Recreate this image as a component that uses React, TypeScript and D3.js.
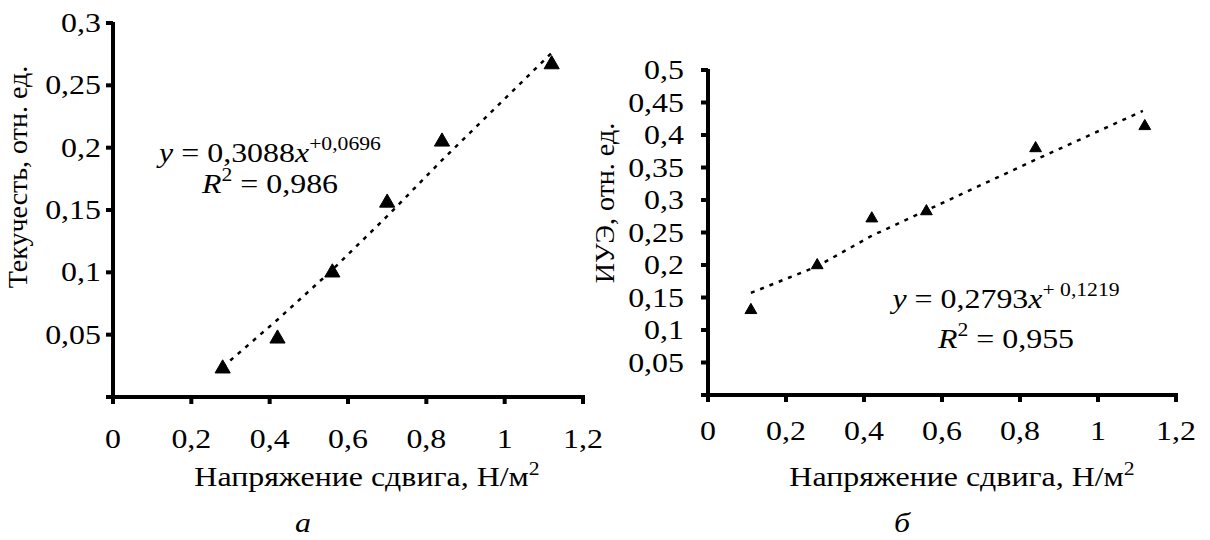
import React, { useEffect, useRef } from "react";
import * as d3 from "d3";

// панель а — текучесть
const shearA = [0.28, 0.42, 0.56, 0.70, 0.84, 1.12];
const fluidity = [0.022, 0.046, 0.099, 0.155, 0.204, 0.266];
const trendAx = [0.28, 0.42, 0.56, 0.70, 0.84, 1.12];
const trendAy = [0.024, 0.062, 0.102, 0.145, 0.19, 0.276];
const yTicksA = [0.05, 0.1, 0.15, 0.2, 0.25, 0.3];

// панель б — ИУЭ
const shearB = [0.11, 0.28, 0.42, 0.56, 0.84, 1.12];
const iue = [0.129, 0.198, 0.27, 0.281, 0.378, 0.412];
const trendBx = [0.11, 0.28, 0.42, 0.56, 0.84, 1.115];
const trendBy = [0.157, 0.198, 0.245, 0.284, 0.362, 0.437];
const yTicksB = [0.05, 0.1, 0.15, 0.2, 0.25, 0.3, 0.35, 0.4, 0.45, 0.5];

const xTicks = [0, 0.2, 0.4, 0.6, 0.8, 1, 1.2];

const FONT = "Liberation Serif, Tinos, DejaVu Serif, serif";
const FS = 28;
const SX = 1.14; // картинка растянута по горизонтали
const fmt = (v: number) => String(+v.toFixed(2)).replace(".", ",");

function App() {
  const ref = useRef<SVGSVGElement>(null);

  useEffect(() => {
    const svg = d3.select(ref.current);
    svg.selectAll("*").remove();

    const txt = (x: number, y: number, anchor = "middle", rot = 0) =>
      svg
        .append("text")
        .attr("transform", `translate(${x},${y}) scale(${rot ? 1 : SX},1)` + (rot ? ` rotate(${rot})` : ""))
        .attr("text-anchor", anchor)
        .attr("font-family", FONT)
        .attr("font-size", FS)
        .attr("fill", "#000");

    const panel = (o: any) => {
      const x = d3.scaleLinear().domain([0, 1.2]).range(o.xr);
      const y = d3.scaleLinear().domain([0, o.ymax]).range(o.yr);
      const g = svg.append("g");

      // оси
      g.append("line")
        .attr("x1", x(0)).attr("x2", x(0))
        .attr("y1", y(0) + 2).attr("y2", y(o.ymax) - 1)
        .attr("stroke", "#000").attr("stroke-width", 4);
      g.append("line")
        .attr("x1", x(0) - 2).attr("x2", x(1.2) + 2)
        .attr("y1", y(0)).attr("y2", y(0))
        .attr("stroke", "#000").attr("stroke-width", 4);

      g.selectAll(".yt")
        .data([0, ...o.yTicks])
        .enter()
        .append("line")
        .attr("x1", x(0) - 7).attr("x2", x(0))
        .attr("y1", (d: number) => y(d)).attr("y2", (d: number) => y(d))
        .attr("stroke", "#000").attr("stroke-width", 4);
      g.selectAll(".xt")
        .data(xTicks)
        .enter()
        .append("line")
        .attr("x1", (d: number) => x(d)).attr("x2", (d: number) => x(d))
        .attr("y1", y(0)).attr("y2", y(0) + 7)
        .attr("stroke", "#000").attr("stroke-width", 4);

      o.yTicks.forEach((d: number) => {
        txt(o.yLabelX, y(d) + 9, "end").text(fmt(d));
      });
      xTicks.forEach((d: number) => {
        txt(x(d), o.xLabelY, "middle").text(fmt(d));
      });

      // линия тренда
      const line = d3
        .line<number>()
        .x((d, i) => x(o.tx[i]))
        .y((d) => y(d));
      g.append("path")
        .attr("d", line(o.ty))
        .attr("fill", "none")
        .attr("stroke", "#000")
        .attr("stroke-width", 2.5)
        .attr("stroke-dasharray", "4 6");

      // точки
      const sym = d3.symbol().type(d3.symbolTriangle).size(o.symSize);
      g.selectAll(".pt")
        .data(o.py)
        .enter()
        .append("path")
        .attr("d", sym)
        .attr("transform", (d: number, i: number) => `translate(${x(o.px[i])},${y(d) - 1})`)
        .attr("fill", "#000")
        .attr("stroke", "#000")
        .attr("stroke-width", 1)
        .attr("stroke-linejoin", "round");

      // подписи осей
      txt(o.ytitle[0], o.ytitle[1], "middle", -90).text(o.ytitleText);
      const xt = txt(o.xtitle[0], o.xtitle[1], "middle");
      xt.append("tspan").text("Напряжение сдвига, Н/м");
      xt.append("tspan").attr("dy", -11).attr("font-size", 19).text("2");

      // уравнение
      const e1 = txt(o.eq[0], o.eq[1], "middle");
      e1.append("tspan").attr("font-style", "italic").text("y");
      e1.append("tspan").text(" = " + o.eqA);
      e1.append("tspan").attr("font-style", "italic").text("x");
      e1.append("tspan").attr("dy", -12).attr("font-size", 19).text(o.eqB);
      const e2 = txt(o.eq[0], o.eq[2], "middle");
      e2.append("tspan").attr("font-style", "italic").text("R");
      e2.append("tspan").attr("dy", -12).attr("font-size", 19).text("2");
      e2.append("tspan").attr("dy", 12).text(" = " + o.r2);

      txt(o.letter[0], o.letter[1], "middle").attr("font-style", "italic").text(o.letterText);
    };

    panel({
      xr: [113, 583], yr: [397, 23], ymax: 0.3, yTicks: yTicksA,
      yLabelX: 101, xLabelY: 448,
      px: shearA, py: fluidity, tx: trendAx, ty: trendAy, symSize: 100,
      ytitle: [27, 177], ytitleText: "Текучесть, отн. ед.",
      xtitle: [367, 486],
      eq: [270, 162, 193], eqA: "0,3088", eqB: "+0,0696", r2: "0,986",
      letter: [303, 532], letterText: "а",
    });
    panel({
      xr: [708, 1176], yr: [395, 70], ymax: 0.5, yTicks: yTicksB,
      yLabelX: 684, xLabelY: 440,
      px: shearB, py: iue, tx: trendBx, ty: trendBy, symSize: 60,
      ytitle: [614, 203], ytitleText: "ИУЭ, отн. ед.",
      xtitle: [962, 486],
      eq: [1006, 308, 348], eqA: "0,2793", eqB: "+ 0,1219", r2: "0,955",
      letter: [902, 532], letterText: "б",
    });
  }, []);

  return (
    <svg
      ref={ref}
      width={1210}
      height={540}
      style={{ position: "absolute", left: 0, top: 0, background: "#fff" }}
    />
  );
}

export default App;
